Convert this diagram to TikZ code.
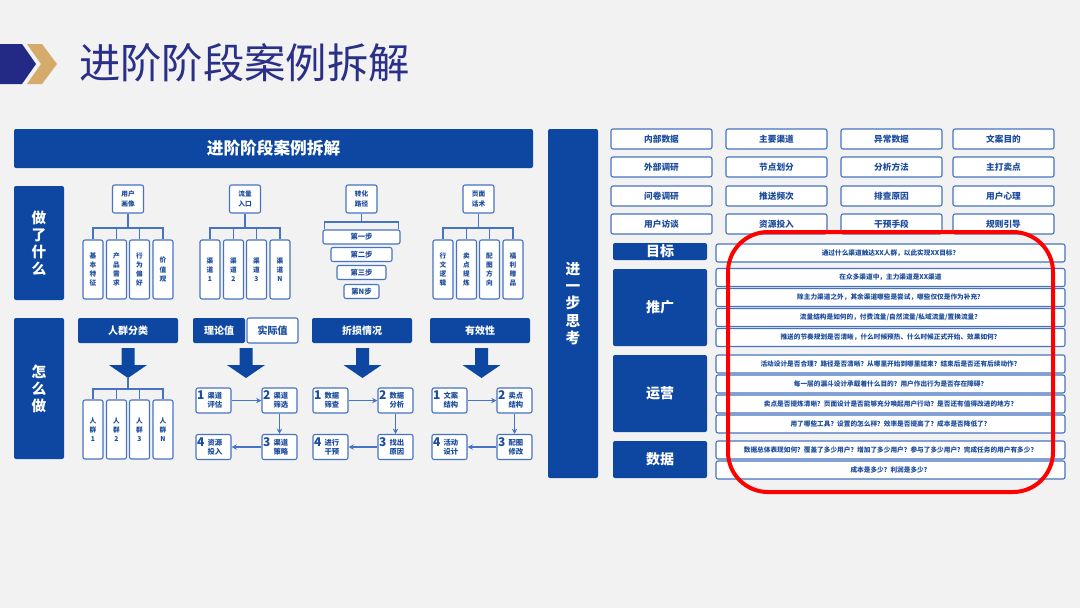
\documentclass[tikz,border=0pt]{standalone}
\usepackage{fontspec}
\setmainfont{Noto Sans CJK SC}
\usetikzlibrary{arrows.meta, positioning}

\definecolor{bggray}{HTML}{F2F2F2}
\definecolor{mainblue}{HTML}{0D47A1}
\definecolor{lineblue}{HTML}{4673C2}
\definecolor{textblue}{HTML}{1C4C9D}
\definecolor{titleblue}{HTML}{2A3087}
\definecolor{navy}{HTML}{232A86}
\definecolor{gold}{HTML}{D4AB6A}

\newcommand{\fs}[2]{\fontsize{#1}{#2}\selectfont\bfseries}

\begin{document}
\begin{tikzpicture}[x=0.75pt, y=-0.75pt,
    bar/.style={fill=mainblue, rounded corners=1.5pt, text=white, inner sep=0pt, align=center},
    box/.style={draw=lineblue, line width=0.8pt, fill=white, rounded corners=1.5pt, text=textblue, inner sep=0pt, align=center},
    sidebar/.style={bar, minimum width=37.5pt, font=\fs{11}{12.8}},
    parent/.style={box, minimum width=23.25pt, minimum height=21pt, font=\fs{5}{7.5}},
    leaf/.style={box, minimum width=15pt, minimum height=44.25pt, font=\fs{5}{6.9}},
    funnel/.style={box, minimum height=10.5pt, font=\fs{5.5}{6}},
    head/.style={bar, minimum width=75pt, minimum height=18.75pt, font=\fs{7.5}{8}},
    stepbox/.style={box, minimum width=26.25pt, minimum height=18.75pt},
    stepnum/.style={inner sep=0pt, anchor=north west, text=textblue, font=\fs{9}{9}},
    steptext/.style={inner sep=0pt, align=center, text=textblue, font=\fs{5.5}{6.8}},
    gridbox/.style={box, minimum width=75.75pt, minimum height=15pt, font=\fs{6.5}{7}},
    tag/.style={bar, minimum width=70.5pt, font=\fs{10.5}{11}},
    question/.style={box, minimum width=261.75pt, minimum height=13.5pt, font=\fs{5}{6}},
    link/.style={draw=lineblue, line width=0.8pt},
    flow/.style={link, -{Stealth[length=4pt, width=4pt]}}
]

% Background
\fill[bggray] (0,0) rectangle (1080,608);
\useasboundingbox (0,0) rectangle (1080,608);

% Title with chevrons
\fill[navy] (0,44) -- (22,44) -- (36,64) -- (22,84) -- (0,84) -- cycle;
\fill[gold] (27,44) -- (42,44) -- (57,64) -- (42,84) -- (27,84) -- (41,64) -- cycle;
\node[anchor=west, inner sep=0pt, text=titleblue, font=\fontsize{31}{31}\selectfont] (title) at (79,63) {进阶阶段案例拆解};

% Left panel header
\node[bar, minimum width=389.25pt, minimum height=29.25pt, font=\fs{12.5}{13}] (case) at (273.5,148.5) {进阶阶段案例拆解};

% Row labels
\node[sidebar, minimum height=85.5pt] (did) at (39,243) {做\\了\\什\\么};
\node[sidebar, minimum height=105.75pt] (how) at (39,388.5) {怎\\么\\做};

% User portrait tree
\node[parent] (user) at (128,199) {用户\\画像};
\foreach \dx/\txt [count=\i] in {-35/{基\\本\\特\\征}, -11.5/{产\\品\\需\\求}, 11.5/{行\\为\\偏\\好}, 35/{价\\值\\观}}
    \node[leaf] (user\i) at (128+\dx,269.5) {\txt};
\coordinate (userbus) at (128,228);
\draw[link] (user.south) -- (userbus);
\draw[link] (user1.north) |- (userbus) -| (user4.north);
\foreach \i in {2,3} \draw[link] (user\i.north) -- (user\i.north |- userbus);

% Traffic entry tree
\node[parent] (traffic) at (245,199) {流量\\入口};
\foreach \dx/\txt [count=\i] in {-35/{渠\\道\\1}, -11.5/{渠\\道\\2}, 11.5/{渠\\道\\3}, 35/{渠\\道\\N}}
    \node[leaf] (traffic\i) at (245+\dx,269.5) {\txt};
\coordinate (trafficbus) at (245,228);
\draw[link] (traffic.south) -- (trafficbus);
\draw[link] (traffic1.north) |- (trafficbus) -| (traffic4.north);
\foreach \i in {2,3} \draw[link] (traffic\i.north) -- (traffic\i.north |- trafficbus);

% Conversion path funnel
\node[parent] (conv) at (361.5,199) {转化\\路径};
\node[funnel, minimum width=57.75pt] (conv1) at (361.5,237) {第一步};
\node[funnel, minimum width=45.75pt] (conv2) at (361.5,254.5) {第二步};
\node[funnel, minimum width=36.75pt] (conv3) at (361.5,272.5) {第三步};
\node[funnel, minimum width=26.25pt] (conv4) at (361.5,291.5) {第N步};
\coordinate (convbus) at (361.5,222);
\draw[link] (conv.south) -- (convbus);
\draw[link] ([xshift=1.5pt]conv1.north west) |- (convbus) -| ([xshift=-1.5pt]conv1.north east);

% Page copy tree
\node[parent] (page) at (478.5,199) {页面\\话术};
\foreach \dx/\txt [count=\i] in {-35/{行\\文\\逻\\辑}, -11.5/{卖\\点\\提\\炼}, 11.5/{配\\图\\方\\向}, 35/{福\\利\\赠\\品}}
    \node[leaf] (page\i) at (478+\dx,269.5) {\txt};
\coordinate (pagebus) at (478.5,228);
\draw[link] (page.south) -- (pagebus);
\draw[link] (page1.north) |- (pagebus) -| (page4.north);
\foreach \i in {2,3} \draw[link] (page\i.north) -- (page\i.north |- pagebus);

% How-to headers
\node[head] (crowd) at (128,330.5) {人群分类};
\node[head, minimum width=39pt] (theory) at (219,330.5) {理论值};
\node[box, minimum width=38.25pt, minimum height=18.75pt, font=\fs{7.5}{8}] (actual) at (272.5,330.5) {实际值};
\node[head] (loss) at (362,330.5) {折损情况};
\node[head] (valid) at (480,330.5) {有效性};

% Big down arrows
\foreach \cx/\nm in {128/crowdtip, 246/theorytip, 362.5/losstip, 481.5/validtip} {
    \fill[mainblue] (\cx-6.5,348) -- (\cx+6.5,348) -- (\cx+6.5,365) -- (\cx+19,365)
        -- (\cx,378) -- (\cx-19,365) -- (\cx-6.5,365) -- cycle;
    \coordinate (\nm) at (\cx,378);
}

% Crowd tree
\foreach \dx/\txt [count=\i] in {-35/{人\\群\\1}, -11.5/{人\\群\\2}, 11.5/{人\\群\\3}, 35/{人\\群\\N}}
    \node[leaf] (crowd\i) at (128+\dx,429.5) {\txt};
\coordinate (crowdbus) at (128,389);
\draw[link] (crowdtip) -- (crowdbus);
\draw[link] (crowd1.north) |- (crowdbus) -| (crowd4.north);
\foreach \i in {2,3} \draw[link] (crowd\i.north) -- (crowd\i.north |- crowdbus);

% Four-step loops
\foreach \g/\xa/\xb/\ta/\tb/\tc/\td in {
    ch/213.5/279.5/{渠道\\评估}/{渠道\\筛选}/{渠道\\策略}/{资源\\投入},
    lo/330.5/395.5/{数据\\筛查}/{数据\\分析}/{找出\\原因}/{进行\\干预},
    ef/449.5/514.5/{文案\\结构}/{卖点\\结构}/{配图\\修改}/{活动\\设计}} {
    \node[stepbox] (\g1) at (\xa,400.5) {};
    \node[stepbox] (\g2) at (\xb,400.5) {};
    \node[stepbox] (\g3) at (\xb,447) {};
    \node[stepbox] (\g4) at (\xa,447) {};
    \foreach \k/\txt in {1/\ta, 2/\tb, 3/\tc, 4/\td} {
        \node[stepnum] at ([xshift=1pt, yshift=-2.5pt]\g\k.north west) {\k};
        \node[steptext] at ([xshift=1pt]\g\k.center) {\txt};
    }
    \draw[flow] (\g1) -- (\g2);
    \draw[flow] (\g2) -- (\g3);
    \draw[flow] (\g3) -- (\g4);
}

% Right panel label
\node[sidebar, minimum height=261.75pt] (think) at (573,303.5) {进\\一\\步\\思\\考};

% Keyword grid
\foreach \x/\ra/\rb/\rc/\rd [count=\j] in {
    661.5/内部数据/外部调研/问卷调研/用户访谈,
    776.5/主要渠道/节点划分/推送频次/资源投入,
    891.5/异常数据/分析方法/排查原因/干预手段,
    1003.5/文案目的/主打卖点/用户心理/规则引导} {
    \node[gridbox] (g\j1) at (\x,139) {\ra};
    \node[gridbox] (g\j2) at (\x,167) {\rb};
    \node[gridbox] (g\j3) at (\x,196) {\rc};
    \node[gridbox] (g\j4) at (\x,224) {\rd};
}

% Topic tags
\node[tag, minimum height=12.75pt] (goal) at (660,251.5) {目标};
\node[tag, minimum height=57.75pt] (promo) at (660,307.5) {推广};
\node[tag, minimum height=57.75pt] (ops) at (660,393.5) {运营};
\node[tag, minimum height=27.75pt] (data) at (660,459.5) {数据};

% Questions
\foreach \y/\q [count=\i] in {
    253/{通过什么渠道触达XX人群，以此实现XX目标？},
    277.5/{在众多渠道中，主力渠道是XX渠道},
    297.5/{除主力渠道之外，其余渠道哪些是尝试，哪些仅仅是作为补充？},
    317.5/{流量结构是如何的，付费流量/自然流量/私域流量/置换流量？},
    337.5/{推送的节奏规划是否清晰，什么时候预热、什么时候正式开始、效果如何？},
    364/{活动设计是否合理？路径是否清晰？从哪里开始到哪里结束？结束后是否还有后续动作？},
    384/{每一层的漏斗设计承载着什么目的？用户作出行为是否存在障碍？},
    404/{卖点是否提炼清晰？页面设计是否能够充分唤起用户行动？是否还有值得改进的地方？},
    424/{用了哪些工具？设置的怎么样？效率是否提高了？成本是否降低了？},
    450/{数据总体表现如何？覆盖了多少用户？增加了多少用户？参与了多少用户？完成任务的用户有多少？},
    470/{成本是多少？利润是多少？}}
    \node[question] (q\i) at (890.5,\y) {\q};

% Red highlight
\draw[red, line width=3pt, rounded corners=30pt] (728,232) rectangle (1053,492);

\end{tikzpicture}
\end{document}
